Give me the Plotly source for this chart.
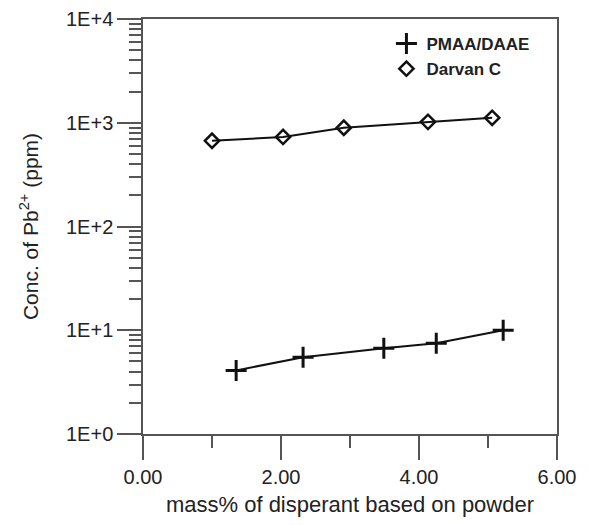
import plotly.graph_objects as go

pmaa_x = [1.35, 2.32, 3.49, 4.25, 5.22]
pmaa_y = [4.1, 5.5, 6.7, 7.5, 10.0]
darvan_x = [1.0, 2.03, 2.91, 4.13, 5.06]
darvan_y = [670, 730, 895, 1020, 1115]
y_tickvals = [1, 10, 100, 1000, 10000]
y_ticktext = ["1E+0", "1E+1", "1E+2", "1E+3", "1E+4"]

ink = "#111111"
fig = go.Figure()
# connecting lines (no legend entry)
fig.add_trace(go.Scatter(x=pmaa_x, y=pmaa_y, mode="lines", showlegend=False,
                         line=dict(color=ink, width=2), hoverinfo="skip"))
fig.add_trace(go.Scatter(x=darvan_x, y=darvan_y, mode="lines", showlegend=False,
                         line=dict(color=ink, width=2), hoverinfo="skip"))
# markers (legend entries)
fig.add_trace(go.Scatter(
    x=pmaa_x, y=pmaa_y, name="PMAA/DAAE", mode="markers",
    marker=dict(symbol="cross-thin", size=15, line=dict(color=ink, width=3)),
))
fig.add_trace(go.Scatter(
    x=darvan_x, y=darvan_y, name="Darvan C", mode="markers",
    marker=dict(symbol="diamond-open", size=11, color=ink, line=dict(color=ink, width=2.5)),
))

axis_color = "#555555"
txt = "#222222"
fam = "Liberation Sans, Arial, sans-serif"
fig.update_layout(
    width=590, height=525,
    margin=dict(l=135, r=41, t=11, b=99),
    paper_bgcolor="white", plot_bgcolor="white",
    font=dict(family=fam, color=txt),
    showlegend=True,
    legend=dict(x=0.588, y=0.983, xanchor="left", yanchor="top",
                bgcolor="rgba(0,0,0,0)",
                font=dict(size=17, color=txt, family=fam, weight="bold"),
                tracegroupgap=0, itemwidth=30),
    xaxis=dict(
        range=[0, 6], dtick=2, tick0=0, tickformat=".2f",
        showgrid=False, zeroline=False, automargin=False,
        showline=True, linecolor=axis_color, linewidth=1.5, mirror=True,
        ticks="outside", ticklen=24, tickwidth=1.5, tickcolor=axis_color,
        tickfont=dict(size=20, color=txt),
        minor=dict(ticks="outside", ticklen=12, tickwidth=1.5, tickcolor=axis_color, dtick=1, showgrid=False),
        title=dict(text="mass% of disperant based on powder", font=dict(size=22, color=txt), standoff=10),
    ),
    yaxis=dict(
        type="log", range=[0, 4],
        tickvals=y_tickvals, ticktext=y_ticktext,
        showgrid=False, zeroline=False, automargin=False,
        showline=True, linecolor=axis_color, linewidth=1.5, mirror=True,
        ticks="outside", ticklen=24, tickwidth=1.5, tickcolor=axis_color,
        tickfont=dict(size=20, color=txt),
        minor=dict(ticks="outside", ticklen=12, tickwidth=1.5, tickcolor=axis_color, dtick="D1", showgrid=False),
        title=dict(text="Conc. of Pb<sup>2+</sup> (ppm)", font=dict(size=21, color=txt), standoff=22),
    ),
)

fig.write_html("out.html")
